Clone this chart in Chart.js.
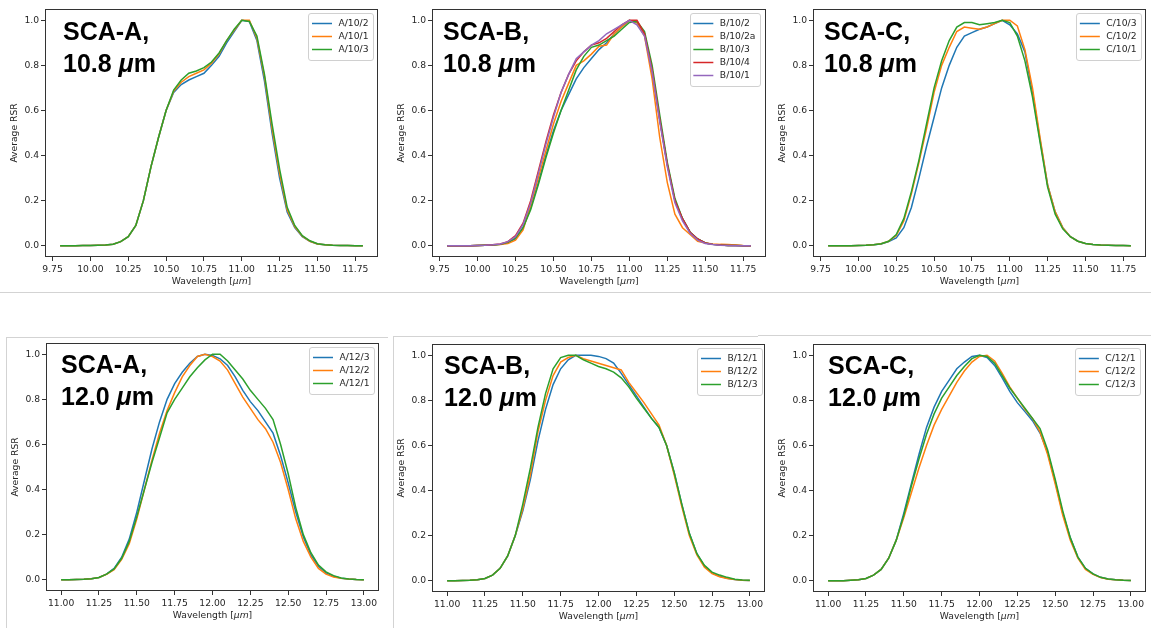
<!DOCTYPE html>
<html>
<head>
<meta charset="utf-8">
<script src="https://cdn.jsdelivr.net/npm/chart.js@4.4.0/dist/chart.umd.min.js"></script>
<style>
  html, body { margin: 0; padding: 0; background: #fff; }
  body { width: 1151px; height: 634px; position: relative; overflow: hidden; }
  canvas { position: absolute; }
  .rule { position: absolute; background: #d3d3d3; }
</style>
</head>
<body>
<div class="rule" style="left:0;top:292px;width:1151px;height:1px"></div>
<div class="rule" style="left:6px;top:337px;width:382px;height:1px"></div>
<div class="rule" style="left:6px;top:337px;width:1px;height:291px"></div>
<div class="rule" style="left:393px;top:336px;width:365px;height:1px"></div>
<div class="rule" style="left:393px;top:336px;width:1px;height:292px"></div>
<div class="rule" style="left:758px;top:335px;width:393px;height:1px"></div>
<script>
// wavelengths (um)
const wlTop = [9.80, 9.85, 9.90, 9.95, 10.00, 10.05, 10.10, 10.15, 10.20, 10.25, 10.30, 10.35, 10.40, 10.45,
  10.50, 10.55, 10.60, 10.65, 10.70, 10.75, 10.80, 10.85, 10.90, 10.95, 11.00, 11.05, 11.10, 11.15, 11.20,
  11.25, 11.30, 11.35, 11.40, 11.45, 11.50, 11.55, 11.60, 11.65, 11.70, 11.75, 11.80];
const wlBottom = [11.00, 11.05, 11.10, 11.15, 11.20, 11.25, 11.30, 11.35, 11.40, 11.45, 11.50, 11.55, 11.60,
  11.65, 11.70, 11.75, 11.80, 11.85, 11.90, 11.95, 12.00, 12.05, 12.10, 12.15, 12.20, 12.25, 12.30, 12.35,
  12.40, 12.45, 12.50, 12.55, 12.60, 12.65, 12.70, 12.75, 12.80, 12.85, 12.90, 12.95, 13.00];

const xTicksTop = [9.75, 10.00, 10.25, 10.50, 10.75, 11.00, 11.25, 11.50, 11.75];
const xTicksBottom = [11.00, 11.25, 11.50, 11.75, 12.00, 12.25, 12.50, 12.75, 13.00];
const yTicks = [0.0, 0.2, 0.4, 0.6, 0.8, 1.0];

// SCA-A, 10.8
const labelsA10 = ['A/10/2', 'A/10/1', 'A/10/3'];
const a10_2 = [0, 0, 0, 0.001, 0.001, 0.002, 0.003, 0.007, 0.018, 0.04, 0.09, 0.2, 0.35, 0.48, 0.6, 0.68, 0.715, 0.735, 0.75, 0.765, 0.8, 0.84, 0.9, 0.95, 1.0, 0.995, 0.91, 0.73, 0.5, 0.3, 0.15, 0.08, 0.04, 0.02, 0.008, 0.004, 0.002, 0.001, 0.001, 0, 0];
const a10_1 = [0, 0, 0, 0.001, 0.001, 0.002, 0.003, 0.007, 0.018, 0.04, 0.09, 0.2, 0.35, 0.48, 0.6, 0.685, 0.725, 0.75, 0.765, 0.78, 0.81, 0.85, 0.91, 0.955, 1.0, 1.0, 0.92, 0.75, 0.52, 0.32, 0.16, 0.085, 0.042, 0.02, 0.008, 0.004, 0.002, 0.001, 0.001, 0, 0];
const a10_3 = [0, 0, 0, 0.001, 0.001, 0.002, 0.003, 0.007, 0.018, 0.04, 0.09, 0.2, 0.35, 0.48, 0.6, 0.69, 0.735, 0.765, 0.775, 0.79, 0.815, 0.855, 0.91, 0.96, 1.0, 0.995, 0.93, 0.76, 0.54, 0.34, 0.17, 0.09, 0.045, 0.022, 0.009, 0.004, 0.002, 0.001, 0.001, 0, 0];

// SCA-B, 10.8
const labelsB10 = ['B/10/2', 'B/10/2a', 'B/10/3', 'B/10/4', 'B/10/1'];
const b10_2 = [0, 0, 0, 0, 0.001, 0.002, 0.003, 0.006, 0.015, 0.03, 0.08, 0.17, 0.28, 0.4, 0.51, 0.6, 0.67, 0.74, 0.79, 0.83, 0.87, 0.9, 0.94, 0.97, 1.0, 0.99, 0.94, 0.78, 0.56, 0.36, 0.2, 0.12, 0.06, 0.03, 0.012, 0.006, 0.003, 0.001, 0.001, 0, 0];
const b10_2a = [0, 0, 0, 0, 0.001, 0.002, 0.003, 0.005, 0.01, 0.025, 0.07, 0.18, 0.3, 0.42, 0.54, 0.64, 0.72, 0.8, 0.82, 0.85, 0.885, 0.89, 0.94, 0.97, 1.0, 0.99, 0.93, 0.74, 0.48, 0.28, 0.14, 0.08, 0.05, 0.02, 0.012, 0.008, 0.006, 0.005, 0.003, 0.001, 0];
const b10_3 = [0, 0, 0, 0, 0.001, 0.002, 0.003, 0.006, 0.015, 0.035, 0.08, 0.16, 0.27, 0.39, 0.5, 0.6, 0.69, 0.78, 0.84, 0.88, 0.89, 0.91, 0.93, 0.96, 0.99, 0.995, 0.95, 0.8, 0.58, 0.37, 0.21, 0.12, 0.06, 0.03, 0.012, 0.006, 0.003, 0.001, 0.001, 0, 0];
const b10_4 = [0, 0, 0, 0, 0.001, 0.002, 0.004, 0.008, 0.018, 0.045, 0.1, 0.2, 0.33, 0.46, 0.58, 0.68, 0.76, 0.82, 0.86, 0.89, 0.9, 0.92, 0.95, 0.98, 1.0, 1.0, 0.94, 0.78, 0.56, 0.36, 0.2, 0.12, 0.06, 0.03, 0.012, 0.006, 0.003, 0.001, 0.001, 0, 0];
const b10_1 = [0, 0, 0, 0, 0.001, 0.002, 0.004, 0.008, 0.018, 0.04, 0.095, 0.19, 0.32, 0.45, 0.57, 0.68, 0.76, 0.83, 0.86, 0.89, 0.91, 0.94, 0.96, 0.98, 1.0, 0.98, 0.93, 0.77, 0.55, 0.35, 0.19, 0.11, 0.055, 0.025, 0.01, 0.005, 0.002, 0.001, 0, 0, 0];

// SCA-C, 10.8
const labelsC10 = ['C/10/3', 'C/10/2', 'C/10/1'];
const c10_3 = [0, 0, 0, 0, 0.001, 0.002, 0.004, 0.008, 0.018, 0.035, 0.08, 0.17, 0.3, 0.44, 0.57, 0.7, 0.8, 0.88, 0.93, 0.945, 0.96, 0.97, 0.985, 1.0, 0.98, 0.94, 0.86, 0.68, 0.47, 0.27, 0.15, 0.08, 0.04, 0.02, 0.01, 0.005, 0.003, 0.002, 0.001, 0.001, 0];
const c10_2 = [0, 0, 0, 0, 0.001, 0.002, 0.004, 0.009, 0.02, 0.045, 0.11, 0.23, 0.37, 0.52, 0.68, 0.8, 0.88, 0.95, 0.97, 0.965, 0.96, 0.97, 0.985, 1.0, 1.0, 0.975, 0.87, 0.7, 0.48, 0.27, 0.15, 0.08, 0.04, 0.02, 0.01, 0.005, 0.003, 0.002, 0.001, 0.001, 0];
const c10_1 = [0, 0, 0, 0, 0.001, 0.002, 0.004, 0.009, 0.02, 0.05, 0.12, 0.24, 0.38, 0.54, 0.7, 0.82, 0.91, 0.97, 0.99, 0.99, 0.98, 0.985, 0.99, 1.0, 0.99, 0.93, 0.82, 0.66, 0.46, 0.26, 0.14, 0.075, 0.04, 0.02, 0.01, 0.005, 0.003, 0.002, 0.001, 0.001, 0];

// SCA-A, 12.0
const labelsA12 = ['A/12/3', 'A/12/2', 'A/12/1'];
const a12_3 = [0, 0, 0.001, 0.002, 0.004, 0.01, 0.025, 0.05, 0.1, 0.18, 0.3, 0.44, 0.58, 0.7, 0.8, 0.87, 0.92, 0.96, 0.99, 1.0, 0.995, 0.98, 0.95, 0.9, 0.84, 0.79, 0.75, 0.7, 0.65, 0.55, 0.43, 0.3, 0.19, 0.11, 0.06, 0.03, 0.015, 0.007, 0.003, 0.001, 0];
const a12_2 = [0, 0, 0.001, 0.002, 0.004, 0.01, 0.024, 0.045, 0.09, 0.16, 0.27, 0.4, 0.53, 0.65, 0.75, 0.83, 0.9, 0.95, 0.99, 1.0, 0.99, 0.97, 0.93, 0.87, 0.81, 0.76, 0.71, 0.67, 0.61, 0.52, 0.4, 0.27, 0.17, 0.1, 0.05, 0.025, 0.012, 0.006, 0.003, 0.001, 0];
const a12_1 = [0, 0, 0.001, 0.002, 0.004, 0.01, 0.025, 0.048, 0.095, 0.17, 0.28, 0.4, 0.52, 0.63, 0.74, 0.8, 0.85, 0.9, 0.94, 0.975, 1.0, 1.0, 0.97, 0.93, 0.89, 0.84, 0.8, 0.76, 0.71, 0.6, 0.47, 0.32, 0.2, 0.12, 0.065, 0.035, 0.018, 0.008, 0.003, 0.001, 0];

// SCA-B, 12.0
const labelsB12 = ['B/12/1', 'B/12/2', 'B/12/3'];
const b12_1 = [0, 0, 0.001, 0.002, 0.004, 0.01, 0.025, 0.055, 0.11, 0.2, 0.31, 0.45, 0.62, 0.76, 0.87, 0.94, 0.98, 1.0, 1.0, 1.0, 0.995, 0.985, 0.965, 0.92, 0.87, 0.82, 0.77, 0.72, 0.68, 0.6, 0.48, 0.34, 0.21, 0.12, 0.065, 0.035, 0.02, 0.011, 0.005, 0.002, 0.001];
const b12_2 = [0, 0, 0.001, 0.002, 0.004, 0.01, 0.025, 0.055, 0.11, 0.2, 0.32, 0.47, 0.66, 0.8, 0.91, 0.97, 0.99, 1.0, 0.985, 0.975, 0.965, 0.955, 0.945, 0.935, 0.88, 0.835, 0.79, 0.74, 0.69, 0.6, 0.47, 0.33, 0.2, 0.115, 0.06, 0.032, 0.018, 0.01, 0.005, 0.002, 0.001];
const b12_3 = [0, 0, 0.001, 0.002, 0.004, 0.01, 0.025, 0.055, 0.11, 0.2, 0.34, 0.5, 0.68, 0.83, 0.94, 0.99, 1.0, 1.0, 0.98, 0.965, 0.95, 0.94, 0.925, 0.9, 0.86, 0.81, 0.765, 0.72, 0.68, 0.6, 0.48, 0.34, 0.21, 0.12, 0.068, 0.038, 0.025, 0.015, 0.007, 0.003, 0.002];

// SCA-C, 12.0
const labelsC12 = ['C/12/1', 'C/12/2', 'C/12/3'];
const c12_1 = [0, 0, 0, 0.002, 0.004, 0.01, 0.025, 0.05, 0.1, 0.18, 0.3, 0.43, 0.56, 0.68, 0.77, 0.84, 0.89, 0.94, 0.97, 0.995, 1.0, 0.99, 0.955, 0.9, 0.84, 0.79, 0.75, 0.71, 0.655, 0.57, 0.44, 0.3, 0.19, 0.105, 0.055, 0.03, 0.015, 0.008, 0.004, 0.002, 0.001];
const c12_2 = [0, 0, 0, 0.002, 0.004, 0.01, 0.025, 0.05, 0.1, 0.18, 0.28, 0.39, 0.5, 0.6, 0.69, 0.76, 0.82, 0.88, 0.93, 0.97, 0.995, 1.0, 0.975, 0.92, 0.86, 0.81, 0.76, 0.72, 0.66, 0.56, 0.43, 0.29, 0.18, 0.1, 0.05, 0.028, 0.014, 0.007, 0.004, 0.002, 0.001];
const c12_3 = [0, 0, 0, 0.002, 0.004, 0.01, 0.025, 0.05, 0.1, 0.18, 0.29, 0.42, 0.54, 0.65, 0.74, 0.81, 0.86, 0.91, 0.95, 0.985, 1.0, 0.995, 0.965, 0.91, 0.855, 0.81, 0.765, 0.72, 0.675, 0.58, 0.45, 0.31, 0.19, 0.105, 0.055, 0.03, 0.015, 0.008, 0.004, 0.002, 0.001];

const tab10 = ['#1f77b4', '#ff7f0e', '#2ca02c', '#d62728', '#9467bd'];

// layout: area = axes box in page pixels
const YW = 44, PT = 9, PR = 5, XH = 40;
const panels = [
  { sca: 'SCA-A,', band: '10.8', wl: wlTop, ticks: xTicksTop, labels: labelsA10, series: [a10_2, a10_1, a10_3],
    area: { l: 45, t: 9, w: 333, h: 248 }, textDx: 18, textDy: 31, legendDx: 5 },
  { sca: 'SCA-B,', band: '10.8', wl: wlTop, ticks: xTicksTop, labels: labelsB10, series: [b10_2, b10_2a, b10_3, b10_4, b10_1],
    area: { l: 432, t: 9, w: 334, h: 248 }, textDx: 11, textDy: 31, legendDx: 6 },
  { sca: 'SCA-C,', band: '10.8', wl: wlTop, ticks: xTicksTop, labels: labelsC10, series: [c10_3, c10_2, c10_1],
    area: { l: 813, t: 9, w: 333, h: 248 }, textDx: 11, textDy: 31, legendDx: 5 },
  { sca: 'SCA-A,', band: '12.0', wl: wlBottom, ticks: xTicksBottom, labels: labelsA12, series: [a12_3, a12_2, a12_1],
    area: { l: 46, t: 343, w: 333, h: 248 }, textDx: 15, textDy: 30, legendDx: 5 },
  { sca: 'SCA-B,', band: '12.0', wl: wlBottom, ticks: xTicksBottom, labels: labelsB12, series: [b12_1, b12_2, b12_3],
    area: { l: 432, t: 344, w: 333, h: 248 }, textDx: 12, textDy: 30, legendDx: 3 },
  { sca: 'SCA-C,', band: '12.0', wl: wlBottom, ticks: xTicksBottom, labels: labelsC12, series: [c12_1, c12_2, c12_3],
    area: { l: 813, t: 344, w: 333, h: 248 }, textDx: 15, textDy: 30, legendDx: 6 }
];

const txtColor = '#262626';
const smallFont = { family: '"DejaVu Sans", sans-serif', size: 9.2 };
const bigFont = '"Liberation Sans", Arial, sans-serif';

function drawParts(ctx, parts, x, y) {
  parts.forEach(function (p) {
    ctx.font = p.font;
    ctx.fillText(p.text, x, y);
    x += ctx.measureText(p.text).width;
  });
}

function partsWidth(ctx, parts) {
  let w = 0;
  parts.forEach(function (p) {
    ctx.font = p.font;
    w += ctx.measureText(p.text).width;
  });
  return w;
}

const decorPlugin = {
  id: 'decor',
  afterDraw(chart) {
    const p = chart.options.plugins.decor;
    const ctx = chart.ctx;
    const a = chart.chartArea;
    ctx.save();

    // axes frame
    ctx.strokeStyle = '#333';
    ctx.lineWidth = 1;
    ctx.strokeRect(Math.round(a.left) + 0.5, Math.round(a.top) + 0.5, Math.round(a.width) - 1, Math.round(a.height) - 1);

    // x label
    const sf = smallFont.size + 'px ' + smallFont.family;
    const isf = 'italic ' + sf;
    const xl = [{ text: 'Wavelength [', font: sf }, { text: '\u03bcm', font: isf }, { text: ']', font: sf }];
    ctx.fillStyle = txtColor;
    ctx.textBaseline = 'middle';
    drawParts(ctx, xl, a.left + a.width / 2 - partsWidth(ctx, xl) / 2, a.bottom + 25);

    // big annotation
    ctx.fillStyle = '#000';
    ctx.textBaseline = 'alphabetic';
    const bf = 'bold 25px ' + bigFont;
    drawParts(ctx, [{ text: p.sca, font: bf }], a.left + p.textDx, a.top + p.textDy);
    drawParts(ctx, [{ text: p.band + ' ', font: bf }, { text: '\u03bc', font: 'italic ' + bf }, { text: 'm', font: bf }],
      a.left + p.textDx, a.top + p.textDy + 32);

    // legend
    ctx.font = sf;
    const sets = chart.data.datasets;
    let maxW = 0;
    sets.forEach(function (d) { maxW = Math.max(maxW, ctx.measureText(d.label).width); });
    const rowH = 13;
    const bw = 3.5 + 20 + 6.5 + maxW + 4.5;
    const bh = sets.length * rowH + 8;
    const bx = a.right - p.legendDx - bw;
    const by = a.top + 4;
    ctx.beginPath();
    ctx.roundRect(Math.round(bx) + 0.5, Math.round(by) + 0.5, Math.round(bw), Math.round(bh), 2.5);
    ctx.fillStyle = 'rgba(255,255,255,0.8)';
    ctx.fill();
    ctx.strokeStyle = '#d0d0d0';
    ctx.stroke();
    ctx.textBaseline = 'middle';
    sets.forEach(function (d, i) {
      const cy = by + 4 + rowH / 2 + i * rowH;
      ctx.strokeStyle = d.borderColor;
      ctx.lineWidth = 1.5;
      ctx.beginPath();
      ctx.moveTo(bx + 3.5, cy);
      ctx.lineTo(bx + 23.5, cy);
      ctx.stroke();
      ctx.fillStyle = txtColor;
      ctx.fillText(d.label, bx + 30, cy);
    });
    ctx.restore();
  }
};

function makePanel(p) {
  const canvas = document.createElement('canvas');
  const w = YW + p.area.w + PR;
  const h = PT + p.area.h + XH;
  canvas.width = w;
  canvas.height = h;
  canvas.style.left = (p.area.l - YW) + 'px';
  canvas.style.top = (p.area.t - PT) + 'px';
  canvas.style.width = w + 'px';
  canvas.style.height = h + 'px';
  document.body.appendChild(canvas);

  const tickGrid = { display: true, drawOnChartArea: false, drawTicks: true, tickLength: 4, color: '#333', lineWidth: 1 };
  const last = p.wl.length - 1;

  new Chart(canvas.getContext('2d'), {
    type: 'line',
    data: {
      datasets: p.series.map(function (vals, i) {
        return {
          label: p.labels[i],
          data: p.wl.map(function (x, j) { return { x: x, y: vals[j] }; }),
          borderColor: tab10[i],
          backgroundColor: tab10[i],
          borderWidth: 1.5,
          pointRadius: 0,
          tension: 0,
          fill: false,
          order: -i
        };
      })
    },
    options: {
      responsive: false,
      animation: false,
      events: [],
      layout: { padding: { top: PT, right: PR, left: 0, bottom: 0 } },
      plugins: {
        legend: { display: false },
        tooltip: { enabled: false },
        decor: p
      },
      scales: {
        x: {
          type: 'linear',
          min: p.wl[0] - 0.1,
          max: p.wl[last] + 0.1,
          afterBuildTicks: function (s) { s.ticks = p.ticks.map(function (v) { return { value: v }; }); },
          afterFit: function (s) { s.height = XH; },
          ticks: {
            callback: function (v) { return v.toFixed(2); },
            font: smallFont, color: txtColor, padding: 3, maxRotation: 0, autoSkip: false
          },
          grid: tickGrid,
          border: { display: false }
        },
        y: {
          type: 'linear',
          min: -0.05,
          max: 1.05,
          afterBuildTicks: function (s) { s.ticks = yTicks.map(function (v) { return { value: v }; }); },
          afterFit: function (s) { s.width = YW; },
          ticks: {
            callback: function (v) { return v.toFixed(1); },
            font: smallFont, color: txtColor, padding: 2
          },
          grid: tickGrid,
          border: { display: false },
          title: { display: true, text: 'Average RSR', font: smallFont, color: txtColor, padding: { top: 8, bottom: 0 } }
        }
      }
    },
    plugins: [decorPlugin]
  });
}

panels.forEach(makePanel);
</script>
</body>
</html>
